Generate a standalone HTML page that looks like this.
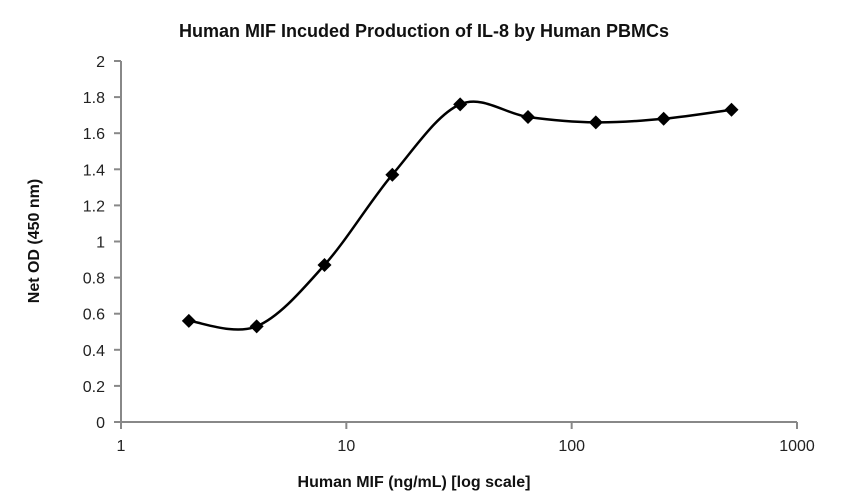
<!DOCTYPE html>
<html><head><meta charset="utf-8"><style>
html,body{margin:0;padding:0;background:#fff;}
svg{display:block;font-family:"Liberation Sans",sans-serif;}
</style></head><body>
<svg id="chart" width="849" height="499" viewBox="0 0 849 499">
<text x="424" y="37" text-anchor="middle" font-size="18" font-weight="bold" fill="#111">Human MIF Incuded Production of IL-8 by Human PBMCs</text>
<text transform="translate(39,241) rotate(-90)" text-anchor="middle" font-size="16" font-weight="bold" fill="#111">Net OD (450 nm)</text>
<text x="414" y="487" text-anchor="middle" font-size="16" font-weight="bold" fill="#111">Human MIF (ng/mL) [log scale]</text>
<g id="axes"></g>
<g id="series"></g>
</svg>
<script>
const xValues=[2,4,8,16,32,64,128,256,512];
const yValues=[0.56,0.53,0.87,1.37,1.76,1.69,1.66,1.68,1.73];
const yTicks=[0,0.2,0.4,0.6,0.8,1,1.2,1.4,1.6,1.8,2];
const xTicks=[1,10,100,1000];
const NS="http://www.w3.org/2000/svg";
const L=121,R=797,T=61,B=422;
function sx(v){return L+(Math.log10(v)-0)/3*(R-L);}
function sy(v){return B-v/2*(B-T);}
function mk(tag,attrs,parent){const e=document.createElementNS(NS,tag);for(const k in attrs)e.setAttribute(k,attrs[k]);parent.appendChild(e);return e;}
const ax=document.getElementById('axes');
let yl=mk('line',{x1:L,y1:T,x2:L,y2:B,stroke:'#888','stroke-width':2},ax);


let xl=mk('line',{x1:L,y1:B,x2:R,y2:B,stroke:'#888','stroke-width':2},ax);


yTicks.forEach(t=>{
  const y=sy(t);
  const tk=mk('line',{x1:L-7,y1:y,x2:L,y2:y,stroke:'#888','stroke-width':2},ax);
  
  
  const tx=mk('text',{x:L-16,y:y+6,'text-anchor':'end','font-size':16,fill:'#222'},ax);
  tx.textContent=String(t);
  
  
});
xTicks.forEach(t=>{
  const x=sx(t);
  const tk=mk('line',{x1:x,y1:B,x2:x,y2:B+7,stroke:'#888','stroke-width':2},ax);
  
  
  const tx=mk('text',{x:x,y:B+29,'text-anchor':'middle','font-size':16,fill:'#222'},ax);
  tx.textContent=String(t);
  
  
});
const sg=document.getElementById('series');
const pts=xValues.map((v,i)=>[sx(v),sy(yValues[i])]);
let d='M'+pts[0][0]+','+pts[0][1];
const tn=1/6;
for(let i=0;i<pts.length-1;i++){
  const p0=pts[Math.max(i-1,0)],p1=pts[i],p2=pts[i+1],p3=pts[Math.min(i+2,pts.length-1)];
  const c1=[p1[0]+(p2[0]-p0[0])*tn,p1[1]+(p2[1]-p0[1])*tn];
  const c2=[p2[0]-(p3[0]-p1[0])*tn,p2[1]-(p3[1]-p1[1])*tn];
  d+=' C'+c1[0]+','+c1[1]+' '+c2[0]+','+c2[1]+' '+p2[0]+','+p2[1];
}
const ln=mk('path',{d:d,fill:'none',stroke:'#000','stroke-width':2.5},sg);


pts.forEach(p=>{
  const s=7;
  const m=mk('polygon',{points:`${p[0]},${p[1]-s} ${p[0]+s},${p[1]} ${p[0]},${p[1]+s} ${p[0]-s},${p[1]}`,fill:'#000'},sg);
  
  
});
</script>
</body></html>
